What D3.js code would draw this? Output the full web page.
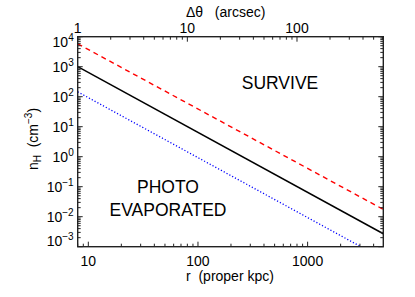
<!DOCTYPE html>
<html>
<head>
<meta charset="utf-8">
<script src="https://cdn.jsdelivr.net/npm/d3@7"></script>
<style>
  body { margin: 0; background: #fff; }
  svg { display: block; font-family: "Liberation Sans", Arial, sans-serif; }
</style>
</head>
<body>
<div class="chart"></div>
<script>
// values
const rEnds = [8, 4900]            // kpc, left / right edge
const nSolid = [1000, 0.0027]      // black solid
const nDashed = [5800, 0.0175]     // red dashed
const nDotted = [145, 0.00039]     // blue dotted
const yTicks = [1e4, 1e3, 1e2, 1e1, 1e0, 1e-1, 1e-2, 1e-3]
const yExp = ["4", "3", "2", "1", "0", "\u22121", "\u22122", "\u22123"]
const xTicks = [10, 100, 1000]
const topTicks = [1, 10, 100]
const thetaEnds = [1, 612.5]       // arcsec

const width = 415
const height = 297
const m = {left: 77.7, right: 383.3, top: 36.7, bottom: 246.7}

const x = d3.scaleLog().domain(rEnds).range([m.left, m.right])
const xt = d3.scaleLog().domain(thetaEnds).range([m.left, m.right])
const y = d3.scaleLog().domain([1e-3, 1e4]).range([m.bottom, m.top])

const svg = d3.select('.chart').append('svg')
    .attr("width", width)
    .attr("height", height)

svg.append("clipPath").attr("id", "clip")
  .append("rect")
    .attr("x", m.left).attr("y", m.top)
    .attr("width", m.right - m.left).attr("height", m.bottom - m.top)

// lines
const series = [
    {n: nDashed, color: "#ff0000", dash: "5,4", w: 1.4},
    {n: nSolid, color: "#000", dash: null, w: 1.5},
    {n: nDotted, color: "#0000ff", dash: "1.2,2", w: 1.3}
]
const line = d3.line().x(d => x(d[0])).y(d => y(d[1]))
svg.append("g").attr("clip-path", "url(#clip)")
  .selectAll("path")
  .data(series)
  .join("path")
    .attr("d", s => line(rEnds.map((r, i) => [r, s.n[i]])))
    .attr("fill", "none")
    .attr("stroke", s => s.color)
    .attr("stroke-width", s => s.w)
    .attr("stroke-dasharray", s => s.dash)

// minor/major tick helper
function logTicks(scale) {
    const [a, b] = scale.domain()
    const out = []
    for (let e = Math.floor(Math.log10(a)); e <= Math.ceil(Math.log10(b)); e++) {
        for (let k = 1; k <= 9; k++) {
            const v = k * Math.pow(10, e)
            if (v >= a * 0.999 && v <= b * 1.001) out.push({v: v, major: k === 1})
        }
    }
    return out
}

const axisColor = "#222"
const ticksG = svg.append("g").attr("stroke", axisColor).attr("stroke-width", 1)

// bottom & top
logTicks(x).forEach(t => {
    const px = x(t.v), len = t.major ? 5 : 3
    ticksG.append("line").attr("x1", px).attr("x2", px).attr("y1", m.bottom).attr("y2", m.bottom - len)
})
logTicks(xt).forEach(t => {
    const px = xt(t.v), len = t.major ? 5 : 3
    ticksG.append("line").attr("x1", px).attr("x2", px).attr("y1", m.top).attr("y2", m.top + len)
})
// left & right
logTicks(y).forEach(t => {
    const py = y(t.v), len = t.major ? 5 : 3
    ticksG.append("line").attr("x1", m.left).attr("x2", m.left + len).attr("y1", py).attr("y2", py)
    ticksG.append("line").attr("x1", m.right).attr("x2", m.right - len).attr("y1", py).attr("y2", py)
})

// frame
svg.append("rect")
    .attr("x", m.left).attr("y", m.top)
    .attr("width", m.right - m.left).attr("height", m.bottom - m.top)
    .attr("fill", "none")
    .attr("stroke", axisColor)
    .attr("stroke-width", 1.4)

// y tick labels
const yl = svg.append("g").attr("font-size", 14).attr("fill", "#000")
yTicks.forEach((v, i) => {
    let py = y(v)
    if (i === 0) py += 5.5
    if (i === yTicks.length - 1) py -= 6
    const t = yl.append("text")
        .attr("x", m.left - 4)
        .attr("y", py + 5)
        .attr("text-anchor", "end")
    t.append("tspan").text("10")
    t.append("tspan").attr("font-size", 10).attr("dy", -6).text(yExp[i])
})

// bottom tick labels
svg.append("g").attr("font-size", 14)
  .selectAll("text")
  .data(xTicks)
  .join("text")
    .attr("x", d => x(d))
    .attr("y", 266)
    .attr("text-anchor", "middle")
    .text(d => d)

// top tick labels
svg.append("g").attr("font-size", 14)
  .selectAll("text")
  .data(topTicks)
  .join("text")
    .attr("x", d => xt(d))
    .attr("y", 33)
    .attr("text-anchor", "middle")
    .text(d => d)

// axis titles
svg.append("text")
    .attr("x", 186)
    .attr("y", 281)
    .attr("font-size", 14)
    .attr("xml:space", "preserve")
    .text("r  (proper kpc)")

svg.append("text")
    .attr("x", 186)
    .attr("y", 17)
    .attr("font-size", 14)
    .attr("xml:space", "preserve")
    .text("\u0394\u03b8   (arcsec)")

const yt = svg.append("text")
    .attr("transform", "translate(38,139) rotate(-90)")
    .attr("text-anchor", "middle")
    .attr("font-size", 14)
yt.append("tspan").text("n")
yt.append("tspan").attr("font-size", 10).attr("dy", 3).text("H")
yt.append("tspan").attr("dy", -3).attr("xml:space", "preserve").text("  (cm")
yt.append("tspan").attr("font-size", 10).attr("dy", -6).text("\u22123")
yt.append("tspan").attr("dy", 6).text(")")

// region labels
const lab = svg.append("g").attr("font-size", 17.5).attr("text-anchor", "middle")
lab.append("text").attr("x", 280).attr("y", 89).text("SURVIVE")
lab.append("text").attr("x", 168).attr("y", 193).text("PHOTO")
lab.append("text").attr("x", 168).attr("y", 216).text("EVAPORATED")
</script>
</body>
</html>
